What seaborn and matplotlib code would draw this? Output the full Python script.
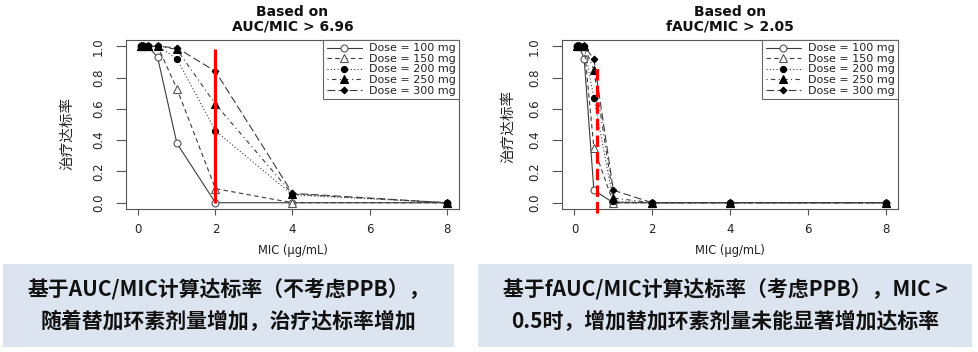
import matplotlib
matplotlib.use("Agg")
import matplotlib.pyplot as plt
import seaborn as sns
import numpy as np
import pandas as pd
from matplotlib.patches import Rectangle

# ---------------- data ----------------
mic = [0.0625, 0.125, 0.25, 0.5, 1, 2, 4, 8]
dose_labels = ["Dose = 100 mg", "Dose = 150 mg", "Dose = 200 mg",
               "Dose = 250 mg", "Dose = 300 mg"]

auc_100 = [1.0, 1.0, 1.0, 0.93, 0.38, 0.0, 0.0, 0.0]
auc_150 = [1.0, 1.0, 1.0, 1.0, 0.73, 0.09, 0.0, 0.0]
auc_200 = [1.0, 1.0, 1.0, 1.0, 0.92, 0.46, 0.05, 0.0]
auc_250 = [1.0, 1.0, 1.0, 1.0, 0.98, 0.63, 0.055, 0.0]
auc_300 = [1.0, 1.0, 1.0, 1.0, 0.99, 0.84, 0.06, 0.0]

fauc_100 = [1.0, 1.0, 0.92, 0.08, 0.0, 0.0, 0.0, 0.0]
fauc_150 = [1.0, 1.0, 1.0, 0.35, 0.0, 0.0, 0.0, 0.0]
fauc_200 = [1.0, 1.0, 1.0, 0.67, 0.01, 0.0, 0.0, 0.0]
fauc_250 = [1.0, 1.0, 1.0, 0.85, 0.03, 0.0, 0.0, 0.0]
fauc_300 = [1.0, 1.0, 1.0, 0.92, 0.08, 0.0, 0.0, 0.0]

x_ticks = [0, 2, 4, 6, 8]
y_ticks = [0.0, 0.2, 0.4, 0.6, 0.8, 1.0]
titles = ["Based on\nAUC/MIC > 6.96", "Based on\nfAUC/MIC > 2.05"]
x_label = "MIC (μg/mL)"
y_label = "治疗达标率"

auc_cut_mic = 2.0
auc_cut_span = [0.0, 0.985]
fauc_cut_mic = 0.57
fauc_cut_span = [-0.065, 0.885]

note_left = ["基于AUC/MIC计算达标率（不考虑PPB），",
             "随着替加环素剂量增加，治疗达标率增加"]
note_right = ["基于fAUC/MIC计算达标率（考虑PPB），MIC >",
              "0.5时，增加替加环素剂量未能显著增加达标率"]

# ---------------- style ----------------
sns.set_style("ticks")
plt.rcParams["font.family"] = ["DejaVu Sans", "Noto Sans CJK SC"]

line_color = "#3c3c3c"
styles = [
    dict(marker="o", markersize=5.0, markerfacecolor="white", markeredgecolor="#555555", linestyle="-"),
    dict(marker="^", markersize=5.5, markerfacecolor="white", markeredgecolor="#555555", linestyle=(0, (4, 3))),
    dict(marker="o", markersize=4.4, markerfacecolor="black", markeredgecolor="black", linestyle=(0, (1, 2))),
    dict(marker="^", markersize=5.8, markerfacecolor="black", markeredgecolor="black", linestyle=(0, (1, 3, 4, 3))),
    dict(marker="D", markersize=3.4, markerfacecolor="black", markeredgecolor="black", linestyle=(0, (7, 3))),
]

W, H = 979, 352
fig = plt.figure(figsize=(W / 100, H / 100), dpi=100)
ax1 = fig.add_axes([126 / W, (H - 209) / H, 333 / W, 169 / H])
ax2 = fig.add_axes([562 / W, (H - 209) / H, 336 / W, 169 / H])

panels = [
    (ax1, [auc_100, auc_150, auc_200, auc_250, auc_300], titles[0],
     (auc_cut_mic, auc_cut_span, "-"), (-0.177, 0.447)),
    (ax2, [fauc_100, fauc_150, fauc_200, fauc_250, fauc_300], titles[1],
     (fauc_cut_mic, fauc_cut_span, (0, (3.6, 1.6))), (-0.161, 0.488)),
]

for ax, series, title, cut, ylab_pos in panels:
    for lab, vals, st in zip(dose_labels, series, styles):
        sns.lineplot(x=mic, y=vals, ax=ax, color=line_color, linewidth=0.8,
                     markeredgewidth=0.8, estimator=None, label=lab,
                     legend=False, **st)
    cx, cspan, cls = cut
    ax.vlines(cx, cspan[0], cspan[1], colors="#ff0000", linewidth=2.3,
              linestyles=[cls], zorder=10, clip_on=False)

    ax.set_xlim(-0.32, 8.32)
    ax.set_ylim(-0.04, 1.04)
    ax.set_xticks(x_ticks)
    ax.set_xticklabels([str(t) for t in x_ticks])
    ax.set_yticks(y_ticks)
    ax.set_yticklabels([f"{t:.1f}" for t in y_ticks], rotation=90, va="center")
    ax.tick_params(axis="x", direction="out", length=4, width=0.8, color="#555555",
                   labelsize=8.5, labelcolor="#222222", pad=6)
    ax.tick_params(axis="y", direction="out", length=7, width=0.8, color="#555555",
                   labelsize=8.5, labelcolor="#222222", pad=8)
    for sp in ax.spines.values():
        sp.set_color("#555555")
        sp.set_linewidth(0.8)

    ax.set_title(title, fontsize=10, fontweight="bold", linespacing=1.0, pad=7,
                 color="#111111")
    ax.set_xlabel(x_label, fontsize=8.3, color="#222222", labelpad=6)
    ax.set_ylabel(y_label, fontsize=10.5, family=["Noto Sans CJK SC"], color="#222222")
    ax.yaxis.set_label_coords(*ylab_pos)
    ax.yaxis.label.set_verticalalignment("center")

    leg = ax.legend(loc="upper right", bbox_to_anchor=(1, 1), borderaxespad=0,
                    fontsize=8.0, frameon=True, fancybox=False, framealpha=1,
                    edgecolor="#666666", handlelength=3.2, handletextpad=0.6,
                    handleheight=0.5, labelspacing=0.05, borderpad=0.3,
                    numpoints=1)
    leg.get_frame().set_linewidth(0.8)
    for t in leg.get_texts():
        t.set_color("#222222")

# ---------------- bottom note boxes ----------------
box_color = "#dce4f0"
boxes = [
    ((3, 264, 451, 83), note_left),
    ((478, 264, 494, 83), note_right),
]
for (bx, by, bw, bh), lines in boxes:
    fig.add_artist(Rectangle((bx / W, (H - by - bh) / H), bw / W, bh / H,
                             transform=fig.transFigure, facecolor=box_color,
                             edgecolor="none", zorder=0))
    cx = (bx + bw / 2) / W
    for i, ln in enumerate(lines):
        yc = 290 + 31 * i
        fig.text(cx, (H - yc) / H, ln, ha="center", va="center", fontsize=15,
                 fontweight="bold", family=["Noto Sans CJK SC"], color="#111111")

fig.savefig("out.png", dpi=100)
